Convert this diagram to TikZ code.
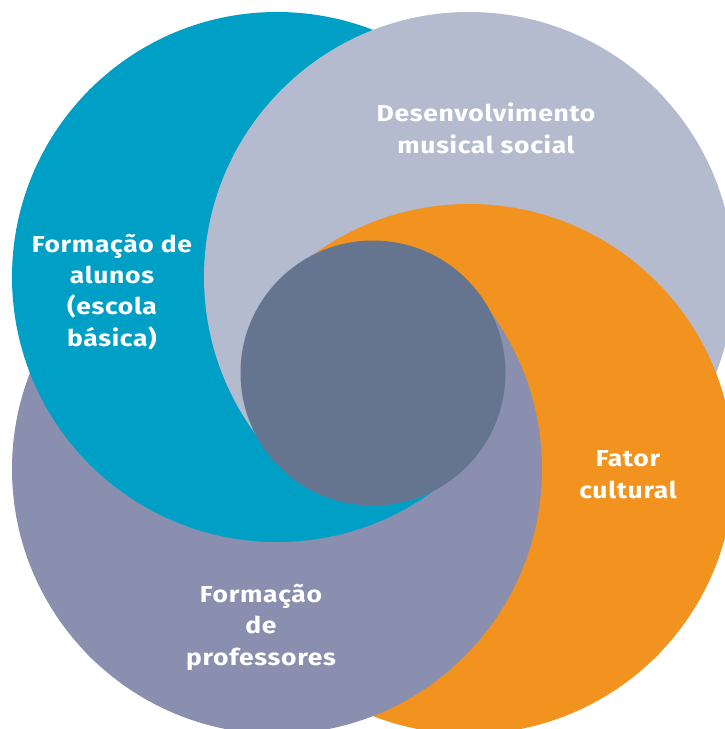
\documentclass[tikz,border=0pt]{standalone}
\usepackage{fontspec}
\setmainfont{Fira Sans}[FakeStretch=1.15, LetterSpace=3]
\begin{document}
\begin{tikzpicture}[x=1pt,y=-1pt,
  lbl/.style={text=white, font=\fontsize{23}{31.3}\selectfont\bfseries, align=center, anchor=base, inner sep=0pt}]
\definecolor{ringB}{HTML}{009FC6}
\definecolor{ringG}{HTML}{B4BBCE}
\definecolor{ringO}{HTML}{F3931F}
\definecolor{ringP}{HTML}{8A8FAF}
\definecolor{hub}{HTML}{66758F}
\useasboundingbox (0,0) rectangle (725,729);
\def\R{265}
\coordinate (cB) at (277,277);
\coordinate (cG) at (469,277);
\coordinate (cO) at (469,469);
\coordinate (cP) at (277,469);
\coordinate (cC) at (373,373);
\newcommand\ringdisc[1]{\fill[ring#1] (c#1) circle[radius=\R];}
% four discs stacked as one group, clipped as a whole
\newcommand\ringstack[4]{%
  \begin{scope}[transparency group]
    \ringdisc{#1}\ringdisc{#2}\ringdisc{#3}\ringdisc{#4}
  \end{scope}}
% each ring covers the previous one clockwise (B < G < O < P < B);
% the cycle is resolved by stacking differently in four wedges
% around the hub, split along the diagonals (wedges overlap slightly)
% top wedge
\begin{scope}
  \clip (cC) -- ++(-1040,-1000) -- ++(2080,0) -- cycle;
  \ringstack{P}{B}{G}{O}
\end{scope}
% right wedge
\begin{scope}
  \clip (cC) -- ++(1000,-1040) -- ++(0,2080) -- cycle;
  \ringstack{B}{G}{O}{P}
\end{scope}
% bottom wedge
\begin{scope}
  \clip (cC) -- ++(1040,1000) -- ++(-2080,0) -- cycle;
  \ringstack{G}{O}{P}{B}
\end{scope}
% left wedge
\begin{scope}
  \clip (cC) -- ++(-1000,1040) -- ++(0,-2080) -- cycle;
  \ringstack{O}{P}{B}{G}
\end{scope}
% central disc
\fill[hub] (cC) circle[radius=132.5];
% labels (anchored at the baseline of the last line)
\node[lbl] (dms) at (486,153) {Desenvolvimento\\musical social};
\node[lbl] (fal) at (112,346) {Formação de\\alunos\\(escola\\básica)};
\node[lbl] (fcu) at (628,498) {Fator\\cultural};
\node[lbl] (fpr) at (261,665) {Formação\\de\\professores};
\end{tikzpicture}
\end{document}
